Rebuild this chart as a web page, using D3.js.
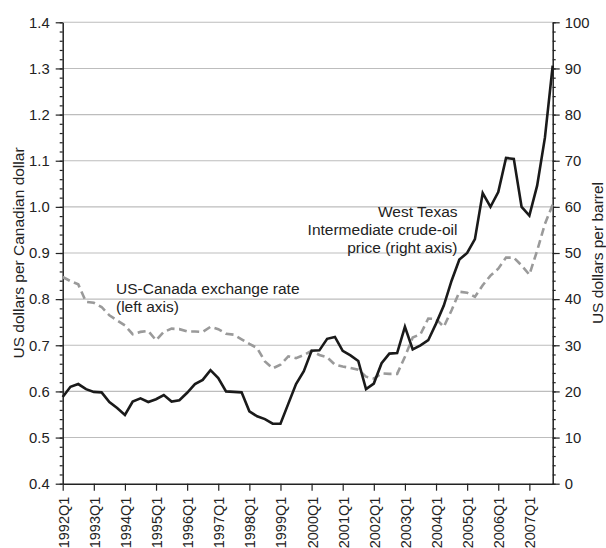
<!DOCTYPE html>
<html>
<head>
<meta charset="utf-8">
<script src="https://cdn.jsdelivr.net/npm/d3@7/dist/d3.min.js"></script>
<style>
    body { margin: 0; background: #fff; }
    svg text { font-family: "Liberation Sans", Arial, Helvetica, sans-serif; fill: #222; }
</style>
</head>
<body>
<svg id="chart" width="606" height="548"></svg>
<script>
// years shown on the x axis (one tick at each Q1)
const years = [1992, 1993, 1994, 1995, 1996, 1997, 1998, 1999,
               2000, 2001, 2002, 2003, 2004, 2005, 2006, 2007];
const quarters = years.flatMap(y => ["Q1", "Q2", "Q3", "Q4"].map(q => y + q));
const yearTicks = years.map(y => y + "Q1");

// US dollars per Canadian dollar (left axis)
const exchangeRate = [
    0.848, 0.839, 0.832, 0.794, 0.792, 0.783, 0.765, 0.754, 0.743, 0.724,
    0.729, 0.731, 0.711, 0.729, 0.736, 0.735, 0.730, 0.730, 0.729, 0.740,
    0.735, 0.725, 0.723, 0.713, 0.703, 0.694, 0.665, 0.650, 0.658, 0.676,
    0.672, 0.679, 0.688, 0.679, 0.674, 0.658, 0.654, 0.651, 0.647, 0.632,
    0.628, 0.639, 0.638, 0.638, 0.675, 0.717, 0.724, 0.758, 0.757, 0.740,
    0.776, 0.816, 0.814, 0.805, 0.830, 0.851, 0.866, 0.890, 0.890, 0.873,
    0.853, 0.905, 0.963, 1.005
];

// WTI crude oil, US dollars per barrel (right axis)
const oilPrice = [
    18.8, 21.0, 21.6, 20.5, 19.9, 19.8, 17.7, 16.4, 14.9, 17.8,
    18.5, 17.7, 18.3, 19.2, 17.8, 18.1, 19.7, 21.6, 22.5, 24.6,
    22.9, 20.0, 19.9, 19.8, 15.7, 14.6, 14.0, 13.0, 13.0, 17.3,
    21.6, 24.4, 28.8, 28.9, 31.4, 31.8, 28.8, 27.8, 26.6, 20.5,
    21.7, 26.1, 28.2, 28.3, 34.0, 29.1, 30.0, 31.1, 34.7, 38.6,
    44.0, 48.6, 50.0, 53.0, 63.0, 60.0, 63.2, 70.6, 70.4, 60.0,
    58.1, 64.6, 75.0, 90.6
];

const leftTicks = [0.4, 0.5, 0.6, 0.7, 0.8, 0.9, 1.0, 1.1, 1.2, 1.3, 1.4];
const rightTicks = [0, 10, 20, 30, 40, 50, 60, 70, 80, 90, 100];

const exchangeLabel = ["US-Canada exchange rate", "(left axis)"];
const oilLabel = ["West Texas", "Intermediate crude-oil", "price (right axis)"];

const box = { left: 62.7, right: 552.7, top: 22.3, bottom: 483.7 };

const svg = d3.select("#chart");

const x = d3.scalePoint().domain(quarters).range([box.left, box.right]);
const yLeft = d3.scaleLinear().domain([0.4, 1.4]).range([box.bottom, box.top]);
const yRight = d3.scaleLinear().domain([0, 100]).range([box.bottom, box.top]);

// grid
svg.append("g")
    .selectAll("line")
    .data(leftTicks.slice(1))
    .join("line")
    .attr("x1", box.left).attr("x2", box.right)
    .attr("y1", d => yLeft(d)).attr("y2", d => yLeft(d))
    .attr("stroke", "#bdbdbd")
    .attr("stroke-width", 1.1);

function styleAxis(g, size = 14.8) {
    g.selectAll("path.domain").attr("stroke", "#222").attr("stroke-width", 1.5);
    g.selectAll(".tick line").attr("stroke", "#222").attr("stroke-width", 1.2);
    g.selectAll("text").attr("font-size", size).attr("fill", "#222")
        .style("font-family", '"Liberation Sans", Arial, sans-serif');
}

// minor ticks
const minorLeft = d3.range(0.4, 1.4001, 0.02);
svg.append("g")
    .attr("transform", `translate(${box.left},0)`)
    .call(d3.axisLeft(yLeft).tickValues(minorLeft).tickSize(3).tickFormat(""))
    .call(g => g.select(".domain").remove())
    .call(styleAxis);

const minorRight = d3.range(0, 100.01, 2);
svg.append("g")
    .attr("transform", `translate(${box.right},0)`)
    .call(d3.axisRight(yRight).tickValues(minorRight).tickSize(3).tickFormat(""))
    .call(g => g.select(".domain").remove())
    .call(styleAxis);

// major axes
svg.append("g")
    .attr("transform", `translate(${box.left},0)`)
    .call(d3.axisLeft(yLeft).tickValues(leftTicks).tickFormat(d3.format(".1f"))
        .tickSize(7).tickSizeOuter(0).tickPadding(6))
    .call(styleAxis);

svg.append("g")
    .attr("transform", `translate(${box.right},0)`)
    .call(d3.axisRight(yRight).tickValues(rightTicks)
        .tickSize(7).tickSizeOuter(0).tickPadding(5))
    .call(styleAxis);

// x labels sit a touch smaller than the reference so they stay inside the frame
svg.append("g")
    .attr("transform", `translate(0,${box.bottom})`)
    .call(d3.axisBottom(x).tickValues(yearTicks).tickSize(7).tickSizeOuter(0))
    .call(g => styleAxis(g, 14.5))
    .call(g => g.selectAll("text")
        .attr("transform", "rotate(-90)")
        .attr("text-anchor", "end")
        .attr("x", -13)
        .attr("y", 0)
        .attr("dy", "0.38em"));

// series
const exchangeLine = d3.line()
    .x((d, i) => x(quarters[i]))
    .y(d => yLeft(d));

const oilLine = d3.line()
    .x((d, i) => x(quarters[i]))
    .y(d => yRight(d));

svg.append("path")
    .datum(exchangeRate)
    .attr("d", exchangeLine)
    .attr("fill", "none")
    .attr("stroke", "#9a9a9a")
    .attr("stroke-width", 2.6)
    .attr("stroke-dasharray", "8,4.5");

svg.append("path")
    .datum(oilPrice)
    .attr("d", oilLine)
    .attr("fill", "none")
    .attr("stroke", "#1a1a1a")
    .attr("stroke-width", 2.6);

// axis titles
svg.append("text")
    .attr("transform", `translate(24,${(box.top + box.bottom) / 2}) rotate(-90)`)
    .attr("text-anchor", "middle")
    .attr("font-size", 15.5)
    .text("US dollars per Canadian dollar");

svg.append("text")
    .attr("transform", `translate(603,${(box.top + box.bottom) / 2}) rotate(-90)`)
    .attr("text-anchor", "middle")
    .attr("font-size", 15.5)
    .text("US dollars per barrel");

// annotations
svg.append("text")
    .attr("font-size", 15.5)
    .selectAll("tspan")
    .data(exchangeLabel)
    .join("tspan")
    .attr("x", 116)
    .attr("y", (d, i) => 294 + i * 18)
    .text(d => d);

svg.append("text")
    .attr("font-size", 15.5)
    .attr("text-anchor", "end")
    .selectAll("tspan")
    .data(oilLabel)
    .join("tspan")
    .attr("x", 457.5)
    .attr("y", (d, i) => 217 + i * 18)
    .text(d => d);
</script>
</body>
</html>
